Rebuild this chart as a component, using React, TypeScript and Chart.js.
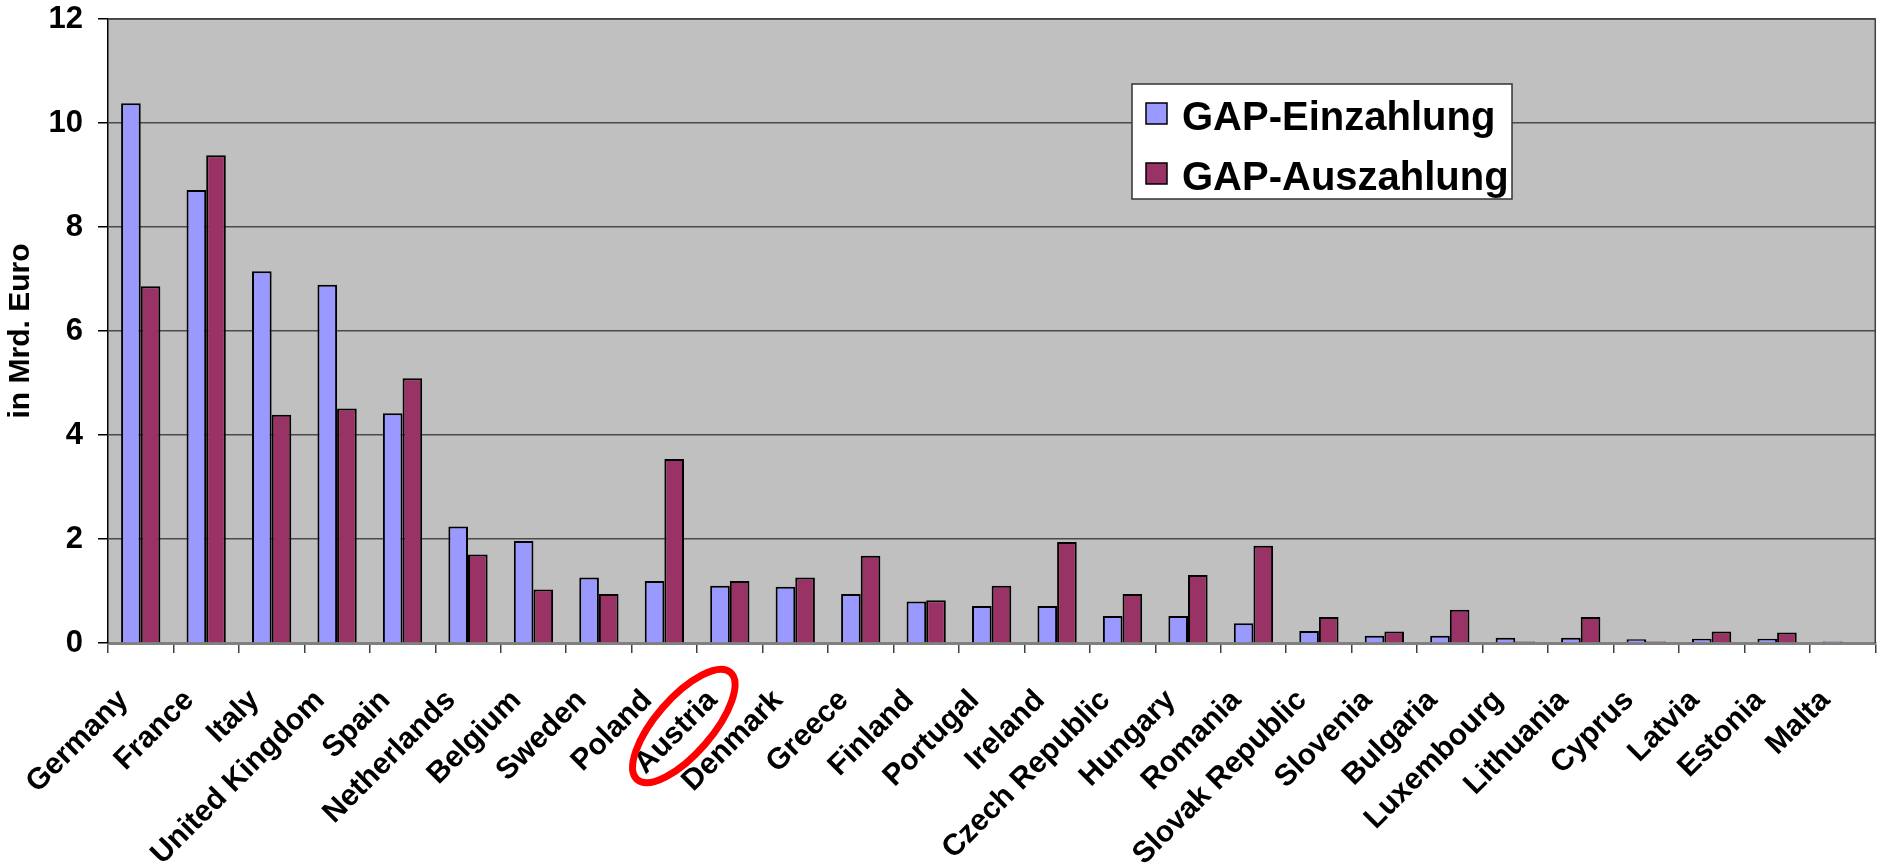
import React, { useEffect, useRef } from "react";
import { Chart, registerables } from "chart.js";

Chart.register(...registerables);

const countries = [
  "Germany", "France", "Italy", "United Kingdom", "Spain", "Netherlands", "Belgium",
  "Sweden", "Poland", "Austria", "Denmark", "Greece", "Finland", "Portugal", "Ireland",
  "Czech Republic", "Hungary", "Romania", "Slovak Republic", "Slovenia", "Bulgaria",
  "Luxembourg", "Lithuania", "Cyprus", "Latvia", "Estonia", "Malta",
];

const einzahlung = [
  10.38, 8.71, 7.15, 6.89, 4.42, 2.24, 1.96, 1.26, 1.19, 1.1, 1.08, 0.94, 0.8, 0.71, 0.71,
  0.52, 0.52, 0.38, 0.23, 0.14, 0.14, 0.1, 0.1, 0.07, 0.08, 0.08, 0.03,
];

const auszahlung = [
  6.86, 9.38, 4.39, 4.51, 5.09, 1.7, 1.03, 0.94, 3.54, 1.19, 1.26, 1.68, 0.82, 1.1, 1.94,
  0.94, 1.31, 1.87, 0.5, 0.22, 0.64, 0.03, 0.5, 0.03, 0.22, 0.2, 0,
];

const seriesNames = ["GAP-Einzahlung", "GAP-Auszahlung"];
const seriesColors = ["#9999FF", "#993366"];
const yTicks = [0, 2, 4, 6, 8, 10, 12];
const yTitle = "in Mrd. Euro";
const highlighted = "Austria";

const FONT = "'Liberation Sans', Arial, Helvetica, sans-serif";

const plotPlugin = {
  id: "plotDecor",
  beforeDraw(chart: any) {
    const { ctx, chartArea: a } = chart;
    ctx.save();
    ctx.fillStyle = "#C0C0C0";
    ctx.fillRect(a.left, a.top, a.right - a.left, a.bottom - a.top);
    ctx.restore();
  },
  afterDatasetsDraw(chart: any) {
    const { ctx, chartArea: a } = chart;
    ctx.save();
    ctx.strokeStyle = "#404040";
    ctx.lineWidth = 1.5;
    ctx.beginPath();
    ctx.moveTo(a.left, a.top);
    ctx.lineTo(a.right, a.top);
    ctx.lineTo(a.right, a.bottom);
    ctx.stroke();
    ctx.restore();
  },
  afterDraw(chart: any) {
    const { ctx, chartArea: a } = chart;
    // legend
    const lx = a.left + 1024;
    const ly = a.top + 65;
    const lw = 380;
    const lh = 115;
    ctx.save();
    ctx.fillStyle = "#FFFFFF";
    ctx.fillRect(lx, ly, lw, lh);
    ctx.strokeStyle = "#333333";
    ctx.lineWidth = 1.5;
    ctx.strokeRect(lx, ly, lw, lh);
    ctx.font = `bold 40px ${FONT}`;
    ctx.textBaseline = "alphabetic";
    ctx.textAlign = "left";
    seriesNames.forEach((name, i) => {
      const sy = ly + 19 + i * 60;
      ctx.fillStyle = seriesColors[i];
      ctx.fillRect(lx + 14, sy, 21, 21);
      ctx.strokeStyle = "#000";
      ctx.lineWidth = 1.5;
      ctx.strokeRect(lx + 14, sy, 21, 21);
      ctx.fillStyle = "#000";
      ctx.fillText(name, lx + 50, sy + 27);
    });
    // highlight ellipse
    const xs = chart.scales.x;
    const idx = countries.indexOf(highlighted);
    const cx = xs.getPixelForValue(idx) - 46;
    const cy = a.bottom + 83;
    ctx.beginPath();
    ctx.ellipse(cx, cy, 71, 28, (-49 * Math.PI) / 180, 0, Math.PI * 2);
    ctx.strokeStyle = "#FF0000";
    ctx.lineWidth = 7;
    ctx.stroke();
    ctx.restore();
  },
};

export default function App() {
  const ref = useRef<HTMLCanvasElement | null>(null);
  useEffect(() => {
    if (!ref.current) return;
    const chart = new Chart(ref.current, {
      type: "bar",
      data: {
        labels: countries,
        datasets: [
          {
            label: seriesNames[0],
            data: einzahlung,
            backgroundColor: seriesColors[0],
            borderColor: "#000",
            borderWidth: 2,
            categoryPercentage: 0.6,
            barPercentage: 1,
          },
          {
            label: seriesNames[1],
            data: auszahlung,
            backgroundColor: seriesColors[1],
            borderColor: "#000",
            borderWidth: 2,
            categoryPercentage: 0.6,
            barPercentage: 1,
          },
        ],
      },
      options: {
        animation: false,
        responsive: false,
        devicePixelRatio: 1,
        layout: { padding: { top: 19, left: 0, right: 0, bottom: 0 } },
        plugins: { legend: { display: false }, tooltip: { enabled: false } },
        scales: {
          x: {
            afterFit: (s: any) => {
              s.height = 225;
            },
            grid: {
              display: true,
              drawOnChartArea: false,
              drawTicks: true,
              tickLength: 10,
              color: "#404040",
              lineWidth: 1.5,
              offset: true,
            },
            border: { display: true, color: "#808080", width: 3 },
            ticks: {
              autoSkip: false,
              maxRotation: 45,
              minRotation: 45,
              padding: 30,
              labelOffset: -17,
              color: "#000",
              font: { family: FONT, size: 30, weight: "bold" },
            },
          },
          y: {
            min: 0,
            max: 12,
            afterFit: (s: any) => {
              s.width = 108;
              s.paddingTop = 0;
              s.paddingBottom = 0;
            },
            afterBuildTicks: (s: any) => {
              s.ticks = yTicks.map((v) => ({ value: v }));
            },
            grid: {
              color: "#4a4a4a",
              lineWidth: 1.5,
              tickLength: 10,
              tickColor: "#000",
            },
            border: { display: true, color: "#000", width: 1.5 },
            ticks: {
              padding: 15,
              color: "#000",
              font: { family: FONT, size: 31, weight: "bold" },
            },
            title: {
              display: true,
              text: yTitle,
              color: "#000",
              padding: { top: 3, bottom: 0 },
              font: { family: FONT, size: 30, weight: "bold" },
            },
          },
        },
      },
      plugins: [plotPlugin],
    });
    return () => chart.destroy();
  }, []);

  return (
    <div
      style={{
        position: "fixed",
        left: 0,
        top: 0,
        width: 1891,
        height: 868,
        overflow: "hidden",
        background: "#fff",
      }}
    >
      <canvas ref={ref} width={1898} height={868} style={{ display: "block", width: 1898, height: 868 }} />
    </div>
  );
}
